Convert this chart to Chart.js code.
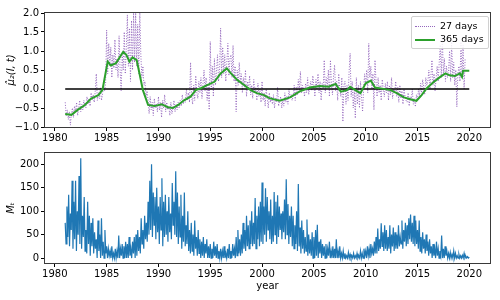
<!DOCTYPE html>
<html>
<head>
<meta charset="utf-8">
<script src="https://cdn.jsdelivr.net/npm/chart.js@4"></script>
<style>
body { margin: 0; background: #fff; }
#wrap { position: relative; width: 500px; height: 300px; font-family: "DejaVu Sans", sans-serif; }
canvas { position: absolute; left: 0; }
#topChart { top: 0; }
#bottomChart { top: 145px; }
#legend { position: absolute; left: 411px; top: 16px; width: 76px; height: 31px; border: 1px solid #d0d0d0; border-radius: 2px; background: rgba(255,255,255,0.85); font-size: 9.5px; color: #000; }
.row { position: absolute; left: 3px; height: 12px; line-height: 12px; white-space: nowrap; }
.sample { display: inline-block; width: 20px; vertical-align: middle; margin-right: 5px; }
</style>
</head>
<body>
<div id="wrap">
  <canvas id="topChart" width="500" height="145"></canvas>
  <canvas id="bottomChart" width="500" height="155"></canvas>
  <div id="legend">
    <div class="row" style="top:3px"><span class="sample" style="border-top:1px dotted #9467bd"></span>27 days</div>
    <div class="row" style="top:16px"><span class="sample" style="border-top:2px solid #2ca02c"></span>365 days</div>
  </div>
</div>
<script>
// 27 day averages, 10 samples per year starting 1981
const start27 = 1981;
const perYear27 = 10;
const avg27 = [
  -0.35, -0.7, -0.55, -0.8, -0.6, -0.95, -0.65, -0.5, -0.75, -0.45,
  -0.6, -0.35, -0.7, -0.5, -0.3, -0.6, -0.4, -0.55, -0.3, -0.45,
  -0.5, -0.2, -0.4, -0.25, -0.45, -0.1, -0.3, -0.15, -0.35, -0.05,
  0.4, -0.3, -0.1, -0.25, 0.05, -0.3, -0.15, 0.1, -0.05, 0.15,
  1.55, 0.4, 1.2, 0.6, 1.1, 0.3, 0.9, 0.55, 1.3, 0.5,
  0.8, 0.3, 1.4, 0.5, -0.05, 0.9, 0.5, 1.5, 0.4, 1.1,
  1.95, 0.6, 1.6, 0.2, 1.8, 0.5, 2.0, 0.7, 2.0, 0.6,
  1.7, 0.4, 2.0, 0.9, 0.3, 0.6, 0.1, 0.2, -0.2, -0.05,
  -0.3, -0.65, -0.2, -0.55, -0.35, -0.7, -0.25, -0.5, -0.4, -0.6,
  -0.2, -0.55, -0.35, -0.75, -0.3, -0.5, -0.15, -0.6, -0.35, -0.55,
  -0.45, -0.7, -0.35, -0.65, -0.5, -0.3, -0.6, -0.4, -0.55, -0.35,
  -0.5, -0.3, -0.45, -0.15, -0.4, -0.25, -0.35, 0.0, -0.3, -0.1,
  -0.35, 0.7, -0.2, -0.4, 0.1, -0.3, 0.35, -0.1, -0.25, 0.2,
  -0.1, 0.3, -0.25, 0.15, 0.5, -0.05, 0.3, -0.3, 0.1, -0.55,
  1.25, 0.0, 0.6, -0.2, 0.8, 0.1, 0.45, 0.9, 0.2, 0.5,
  1.6, 0.3, 1.1, 0.4, 0.9, 0.2, 0.7, 1.2, 0.35, 0.8,
  0.9, 0.3, 1.15, 0.2, 0.6, -0.6, 0.5, 0.1, 0.7, 0.2,
  0.4, -0.1, 0.3, 0.05, 0.5, -0.2, 0.2, 0.0, 0.35, -0.15,
  0.1, -0.25, 0.25, -0.1, 0.05, -0.3, 0.15, -0.2, 0.0, -0.35,
  0.2, -0.3, -0.1, -0.45, 0.0, -0.25, -0.5, -0.1, -0.35, -0.2,
  -0.4, -0.15, -0.5, -0.25, -0.35, 0.05, -0.45, -0.3, -0.2, -0.5,
  -0.3, -0.45, -0.1, -0.35, -0.2, -0.4, 0.0, -0.25, -0.15, -0.3,
  -0.2, 0.1, -0.3, 0.05, -0.15, 0.25, -0.05, 0.46, -0.1, 0.1,
  0.0, -0.2, 0.15, -0.1, 0.3, -0.15, 0.05, 0.2, -0.05, 0.35,
  0.1, -0.2, 0.25, 0.0, 0.4, -0.1, 0.2, -0.3, 0.15, 0.0,
  0.76, -0.1, 0.3, 0.05, 0.5, -0.2, 0.76, 0.1, -0.15, 0.35,
  0.63, -0.05, 0.2, -0.3, 0.4, 0.0, -0.2, 0.3, -0.86, 0.1,
  0.2, -0.4, 0.1, -0.3, 0.45, 0.94, -0.2, 0.2, -0.5, 0.0,
  -0.77, 0.3, -0.4, 0.1, -0.5, 0.2, -0.2, -0.6, 0.0, 0.4,
  0.1, 0.5, -0.1, 1.2, 0.3, 0.6, 0.0, 0.4, -0.55, 0.76,
  0.2, -0.2, 0.3, -0.1, 0.1, -0.3, 0.25, 0.0, -0.2, 0.15,
  -0.1, 0.2, -0.3, 0.1, -0.15, 0.3, -0.25, 0.0, -0.1, 0.2,
  -0.2, 0.05, -0.35, 0.1, -0.25, -0.05, -0.4, 0.0, -0.2, -0.3,
  -0.35, -0.1, -0.45, -0.2, -0.3, 0.0, -0.4, -0.25, -0.47, -0.15,
  -0.3, 0.0, -0.2, 0.15, -0.1, 0.25, 0.05, -0.15, 0.3, 0.1,
  0.2, 0.5, 0.0, 0.35, 0.76, 0.1, 0.4, -0.05, 0.3, 0.6,
  0.2, 0.7, 1.16, 0.3, 1.38, 0.4, 0.8, 0.2, 0.6, 0.3,
  0.5, 1.0, 0.2, 1.24, 0.3, 0.7, 0.1, 0.5, -0.47, 0.4,
  0.6, 0.2, 1.24, 0.3, 1.16, 0.0, 0.8
];

// 365 day averages
const years365 = [1981.0, 1981.6, 1982.2, 1982.9, 1983.5, 1984.2, 1984.6, 1985.1, 1985.4, 1985.9,
  1986.6, 1986.9, 1987.2, 1987.5, 1987.9, 1988.2, 1988.5, 1989.0, 1989.6, 1990.3,
  1990.9, 1991.4, 1991.9, 1992.5, 1993.1, 1993.6, 1994.1, 1994.7, 1995.4, 1996.0,
  1996.6, 1997.0, 1997.6, 1998.3, 1998.9, 1999.5, 2000.2, 2000.7, 2001.7, 2002.7,
  2003.6, 2004.6, 2005.6, 2006.4, 2007.1, 2007.6, 2008.2, 2008.5, 2009.0, 2009.5,
  2010.0, 2010.5, 2010.9, 2011.6, 2012.4, 2013.0, 2013.7, 2014.3, 2014.9, 2015.4,
  2015.9, 2016.5, 2017.2, 2017.7, 2018.1, 2018.6, 2019.1, 2019.3, 2019.4, 2020.0];
const avg365 = [-0.66, -0.68, -0.55, -0.42, -0.25, -0.16, -0.02, 0.72, 0.62, 0.68,
  0.98, 0.9, 0.72, 0.83, 0.76, 0.37, -0.03, -0.42, -0.45, -0.4,
  -0.48, -0.5, -0.42, -0.29, -0.2, -0.03, 0.02, 0.1, 0.19, 0.41,
  0.54, 0.41, 0.24, 0.1, -0.03, -0.11, -0.16, -0.24, -0.31, -0.22,
  -0.07, 0.04, 0.08, 0.06, 0.13, -0.07, -0.03, 0.06, -0.03, -0.11,
  0.15, 0.22, 0.04, 0.01, -0.03, -0.11, -0.22, -0.27, -0.31, -0.16,
  0.02, 0.17, 0.32, 0.41, 0.36, 0.34, 0.41, 0.32, 0.48, 0.48];

// zero reference line
const zeroYears = [1981, 2020];
const zeroLine = [0, 0];

// M_t, 12 samples per year starting 1981
const startM = 1981;
const perYearM = 12;
const sunspots = [
  75, 30, 110, 45, 135, 25, 95, 60, 165, 20, 120, 40,
  165, 15, 100, 50, 175, 30, 213, 20, 90, 45, 130, 15,
  60, 10, 120, 30, 90, 5, 75, 25, 85, 10, 55, 20,
  40, 0, 80, 15, 50, 0, 85, 5, 35, 0, 60, 10,
  25, 0, 20, 5, 15, 0, 25, 0, 10, 0, 20, 0,
  15, 0, 48, 0, 20, 5, 30, 0, 25, 0, 35, 0,
  30, 0, 45, 5, 20, 0, 35, 10, 45, 0, 50, 5,
  60, 15, 45, 10, 85, 30, 60, 20, 90, 40, 75, 35,
  120, 50, 165, 60, 200, 45, 140, 70, 130, 40, 150, 55,
  110, 30, 130, 60, 170, 25, 120, 45, 135, 50, 100, 35,
  130, 55, 95, 40, 160, 70, 120, 50, 185, 45, 140, 30,
  110, 45, 135, 20, 90, 35, 140, 25, 70, 30, 100, 15,
  60, 10, 75, 15, 50, 5, 80, 20, 45, 5, 60, 10,
  40, 0, 35, 5, 45, 0, 30, 10, 40, 0, 25, 0,
  30, 0, 20, 0, 35, 5, 25, 0, 30, 0, 15, 0,
  20, 0, 15, 0, 25, 0, 10, 0, 20, 0, 30, 0,
  15, 0, 30, 5, 20, 0, 45, 5, 60, 10, 40, 5,
  50, 10, 75, 20, 60, 15, 90, 25, 70, 20, 80, 30,
  100, 25, 75, 30, 128, 20, 90, 40, 110, 25, 120, 35,
  161, 30, 110, 50, 149, 35, 130, 60, 100, 40, 125, 30,
  90, 35, 141, 50, 120, 30, 134, 45, 110, 60, 95, 40,
  100, 55, 125, 40, 168, 50, 115, 30, 90, 45, 110, 25,
  90, 20, 70, 30, 100, 15, 158, 25, 65, 10, 80, 20,
  60, 10, 45, 15, 82, 5, 50, 10, 40, 5, 55, 0,
  45, 0, 60, 5, 71, 0, 35, 10, 40, 0, 30, 5,
  25, 0, 30, 0, 20, 5, 35, 0, 15, 0, 25, 0,
  20, 0, 40, 0, 15, 0, 25, 0, 10, 0, 15, 0,
  10, 0, 5, 0, 12, 0, 8, 0, 5, 0, 10, 0,
  5, 0, 10, 0, 5, 0, 15, 0, 10, 0, 20, 5,
  15, 0, 25, 5, 20, 0, 30, 10, 20, 5, 35, 10,
  45, 10, 63, 15, 40, 20, 74, 25, 55, 15, 70, 20,
  60, 15, 45, 20, 70, 10, 50, 25, 65, 15, 55, 20,
  50, 20, 70, 25, 45, 30, 80, 20, 60, 35, 75, 25,
  70, 30, 85, 40, 93, 35, 75, 30, 90, 25, 80, 30,
  60, 20, 80, 15, 45, 10, 55, 20, 40, 10, 50, 15,
  35, 5, 40, 10, 25, 0, 30, 5, 20, 0, 35, 5,
  20, 0, 15, 5, 48, 0, 20, 0, 25, 5, 15, 0,
  10, 0, 12, 0, 8, 0, 15, 0, 10, 0, 5, 0,
  8, 0, 5, 0, 6, 0, 10, 0, 4, 0, 3, 0,
  2
];

const xTicks = { min: 1979.05, max: 2022.0, step: 5 };

const tickFont = { family: 'DejaVu Sans', size: 10 };

const boxPlugin = {
  id: 'box',
  afterDraw(chart) {
    const a = chart.chartArea;
    const ctx = chart.ctx;
    ctx.save();
    ctx.strokeStyle = '#3a3a3a';
    ctx.lineWidth = 1;
    ctx.strokeRect(a.left - 0.5, a.top - 0.5, a.right - a.left + 1, a.bottom - a.top + 1);
    ctx.restore();
  }
};

function axisGrid() {
  return { display: true, drawOnChartArea: false, drawTicks: true, tickLength: 4, tickColor: '#000', lineWidth: 1 };
}

function xAxis(height, title) {
  return {
    type: 'linear',
    min: xTicks.min,
    max: xTicks.max,
    grid: axisGrid(),
    border: { display: false },
    ticks: {
      stepSize: xTicks.step,
      includeBounds: false,
      autoSkip: false,
      maxRotation: 0,
      color: '#000',
      font: tickFont,
      padding: 1,
      callback: (v) => String(v)
    },
    title: title ? { display: true, text: title, color: '#000', font: tickFont, padding: { top: 0, bottom: 8 } } : { display: false },
    afterFit(s) { s.height = height; }
  };
}

function minus(s) { return s.replace('-', '\u2212'); }

const toXY = (xs, ys) => ys.map((y, i) => ({ x: xs[i], y: y }));

// top panel
new Chart(document.getElementById('topChart'), {
  type: 'line',
  data: {
    datasets: [
      {
        label: '365 days',
        data: toXY(years365, avg365),
        borderColor: '#2ca02c',
        borderWidth: 2,
        pointRadius: 0,
        tension: 0,
        order: 1
      },
      {
        label: 'zero',
        data: toXY(zeroYears, zeroLine),
        borderColor: '#000',
        borderWidth: 1.5,
        pointRadius: 0,
        order: 2
      },
      {
        label: '27 days',
        data: avg27.map((v, i) => ({ x: start27 + i / perYear27, y: v })),
        borderColor: '#9467bd',
        borderWidth: 1,
        borderDash: [1, 1.6],
        pointRadius: 0,
        tension: 0,
        order: 3
      }
    ]
  },
  options: {
    responsive: false,
    animation: false,
    devicePixelRatio: 1,
    layout: { padding: { top: 13, right: 10, left: 0, bottom: 0 } },
    plugins: { legend: { display: false }, tooltip: { enabled: false } },
    scales: {
      x: xAxis(18, null),
      y: {
        min: -1,
        max: 2,
        grid: axisGrid(),
        border: { display: false },
        ticks: {
          stepSize: 0.5,
          includeBounds: false,
          color: '#000',
          font: tickFont,
          padding: 2,
          callback: (v) => minus(v.toFixed(1))
        },
        title: { display: true, text: '\u03bc\u0302\u2082(l, t)', color: '#000', font: { family: 'DejaVu Sans', size: 10, style: 'italic' }, padding: { top: 5, bottom: 0 } },
        afterFit(s) { s.width = 45; }
      }
    }
  },
  plugins: [boxPlugin]
});

// bottom panel
new Chart(document.getElementById('bottomChart'), {
  type: 'line',
  data: {
    datasets: [
      {
        label: 'M_t',
        data: sunspots.map((v, i) => ({ x: startM + i / perYearM, y: v })),
        borderColor: '#1f77b4',
        borderWidth: 1.2,
        pointRadius: 0,
        tension: 0
      }
    ]
  },
  options: {
    responsive: false,
    animation: false,
    devicePixelRatio: 1,
    layout: { padding: { top: 6, right: 10, left: 0, bottom: 0 } },
    plugins: { legend: { display: false }, tooltip: { enabled: false } },
    scales: {
      x: xAxis(37, 'year'),
      y: {
        min: -10.5,
        max: 224,
        grid: axisGrid(),
        border: { display: false },
        ticks: {
          stepSize: 50,
          includeBounds: false,
          color: '#000',
          font: tickFont,
          padding: 2,
          callback: (v) => String(v)
        },
        title: { display: true, text: 'M\u209c', color: '#000', font: { family: 'DejaVu Sans', size: 10, style: 'italic' }, padding: { top: 5, bottom: 0 } },
        afterFit(s) { s.width = 45; }
      }
    }
  },
  plugins: [boxPlugin]
});
</script>
</body>
</html>
